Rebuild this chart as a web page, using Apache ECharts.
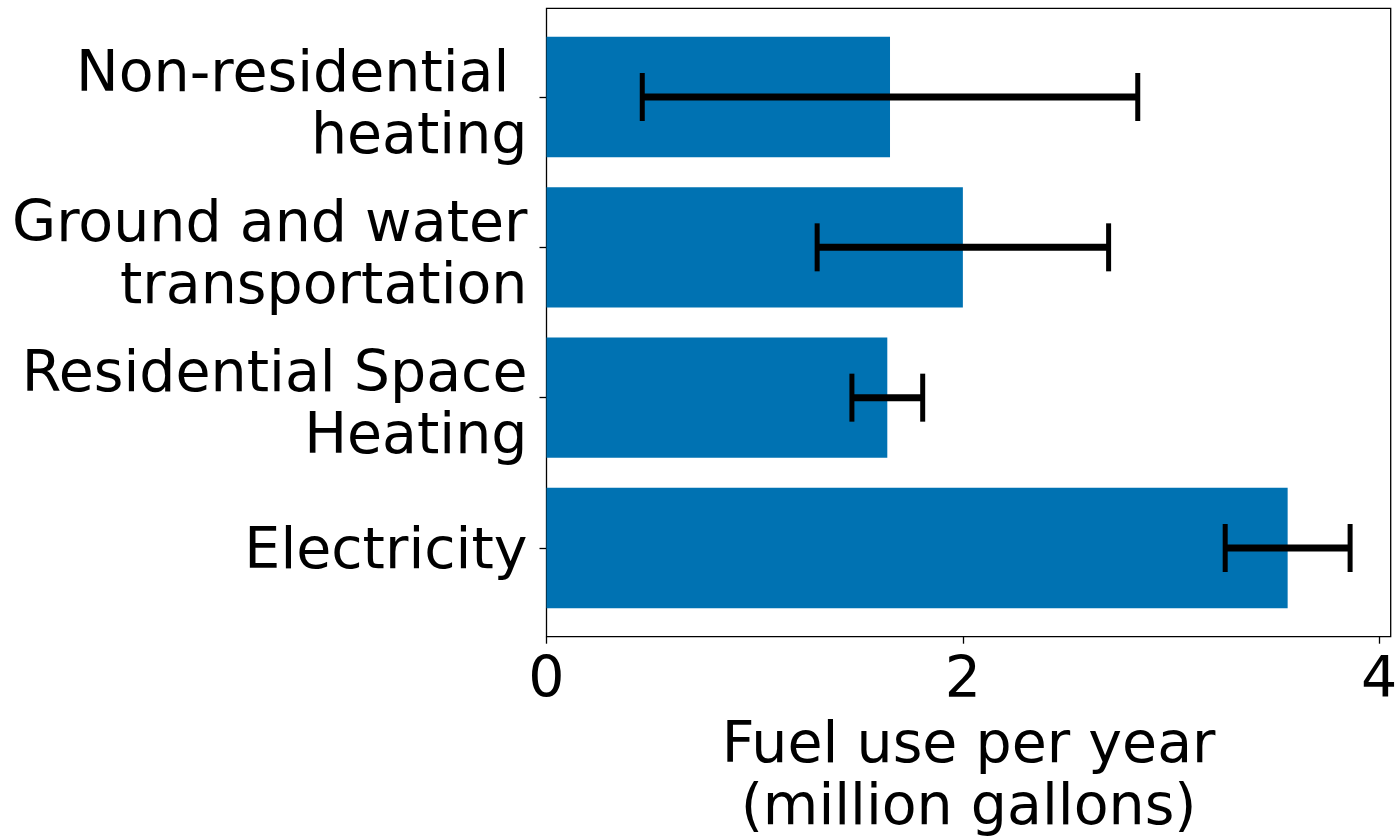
<!DOCTYPE html>
<html>
<head>
<meta charset="utf-8">
<title>Fuel use per year</title>
<script src="https://cdn.jsdelivr.net/npm/echarts@6/dist/echarts.min.js"></script>
<style>
  html, body { margin: 0; padding: 0; background: #ffffff; }
  #chart { width: 1397px; height: 837px; }
</style>
</head>
<body>
<div id="chart"></div>
<script>
// Categories listed bottom to top (index 0 sits at the bottom of the axis)
const categories = [
  'Electricity',
  'Residential Space\nHeating',
  'Ground and water\ntransportation',
  'Non-residential \nheating'
];
// Fuel use per year, million gallons
const fuelUse = [3.56, 1.637, 2.00, 1.65];
// Symmetric error (± million gallons)
const fuelErr = [0.30, 0.17, 0.70, 1.19];
// Tick values on each axis
const xTicks = [0, 2, 4];
const yTicks = [0, 1, 2, 3];

const BAR_COLOR = '#0072B2';
const FONT = 'DejaVu Sans';
const FONT_SIZE = 57;
const LINE_H = 62;
const BAR_HALF = 0.4;

const chart = echarts.init(document.getElementById('chart'), null, { renderer: 'canvas' });

const barData = fuelUse.map((v, i) => [v, i]);
const errData = fuelUse.map((v, i) => [v, i, fuelErr[i]]);

// Category label as rich text: a thin spacer line on top nudges the
// text block down so that it sits centred on its tick like the baseline-centred layout.
function categoryLabel(v) {
  const lines = categories[Math.round(v)].split('\n');
  const spacer = lines.length > 1 ? '{sp2| }' : '{sp1| }';
  return [spacer].concat(lines.map(l => '{t|' + l + '}')).join('\n');
}

const option = {
  animation: false,
  backgroundColor: '#ffffff',
  grid: {
    left: 546.5,
    top: 8.3,
    width: 844.2,
    height: 628.4,
    containLabel: false,
    outerBoundsMode: 'none',
    show: true,
    borderColor: '#000000',
    borderWidth: 1.3,
    backgroundColor: 'transparent'
  },
  xAxis: {
    type: 'value',
    position: 'bottom',
    min: 0,
    max: 4.055,
    splitLine: { show: false },
    axisLine: { show: false, onZero: false },
    axisTick: {
      show: true,
      customValues: xTicks,
      length: 7,
      lineStyle: { color: '#000', width: 1.3 }
    },
    axisLabel: {
      customValues: xTicks,
      fontFamily: FONT,
      fontSize: FONT_SIZE,
      color: '#000',
      margin: 17,
      formatter: v => String(v)
    },
    name: 'Fuel use per year\n(million gallons)',
    nameLocation: 'middle',
    nameGap: 79,
    nameTextStyle: {
      fontFamily: FONT,
      fontSize: FONT_SIZE,
      color: '#000',
      lineHeight: LINE_H,
      verticalAlign: 'top'
    }
  },
  yAxis: {
    type: 'value',
    position: 'left',
    min: -0.59,
    max: 3.59,
    splitLine: { show: false },
    axisLine: { show: false, onZero: false },
    axisTick: {
      show: true,
      customValues: yTicks,
      length: 7,
      lineStyle: { color: '#000', width: 1.3 }
    },
    axisLabel: {
      customValues: yTicks,
      fontFamily: FONT,
      fontSize: FONT_SIZE,
      color: '#000',
      margin: 19,
      align: 'right',
      formatter: categoryLabel,
      rich: {
        t: {
          fontFamily: FONT,
          fontSize: FONT_SIZE,
          color: '#000',
          lineHeight: LINE_H,
          align: 'right'
        },
        sp1: { fontSize: 1, lineHeight: 10, align: 'right' },
        sp2: { fontSize: 1, lineHeight: 20, align: 'right' }
      }
    }
  },
  series: [
    {
      type: 'custom',
      name: 'Fuel use',
      data: barData,
      encode: { x: 0, y: 1 },
      z: 2,
      renderItem: (params, api) => {
        const v = api.value(0);
        const idx = api.value(1);
        const p0 = api.coord([0, idx - BAR_HALF]);
        const p1 = api.coord([v, idx + BAR_HALF]);
        return {
          type: 'rect',
          shape: { x: p0[0], y: p1[1], width: p1[0] - p0[0], height: p0[1] - p1[1] },
          style: { fill: BAR_COLOR }
        };
      }
    },
    {
      type: 'custom',
      name: 'Error',
      data: errData,
      encode: { x: 0, y: 1 },
      z: 3,
      renderItem: (params, api) => {
        const v = api.value(0);
        const idx = api.value(1);
        const e = api.value(2);
        const lo = api.coord([v - e, idx]);
        const hi = api.coord([v + e, idx]);
        const cap = 24;
        return {
          type: 'group',
          children: [
            {
              type: 'line',
              shape: { x1: lo[0], y1: lo[1], x2: hi[0], y2: hi[1] },
              style: { stroke: '#000', lineWidth: 7 }
            },
            {
              type: 'line',
              shape: { x1: lo[0], y1: lo[1] - cap, x2: lo[0], y2: lo[1] + cap },
              style: { stroke: '#000', lineWidth: 5 }
            },
            {
              type: 'line',
              shape: { x1: hi[0], y1: hi[1] - cap, x2: hi[0], y2: hi[1] + cap },
              style: { stroke: '#000', lineWidth: 5 }
            }
          ]
        };
      }
    }
  ]
};

chart.setOption(option);
</script>
</body>
</html>
